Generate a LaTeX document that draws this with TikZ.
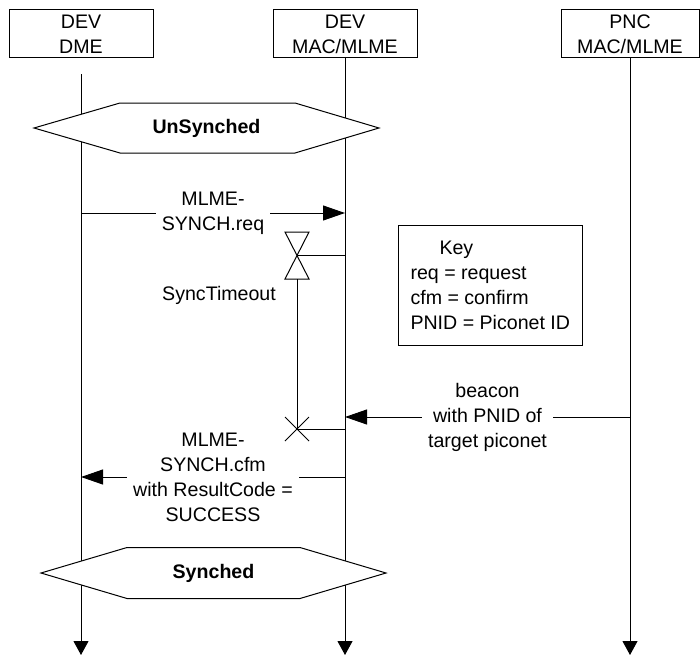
\documentclass[tikz,border=0pt]{standalone}
\usepackage{fontspec}
\setmainfont{Liberation Sans}
\usetikzlibrary{arrows.meta}

\begin{document}
\begin{tikzpicture}[x=1pt,y=-1pt,line width=1pt,
	every node/.style={font=\fontsize{19.6}{25}\selectfont}]
	\useasboundingbox (0,0) rectangle (700,658);
	\tikzstyle{head}=[draw, align=center, minimum width=144pt, minimum height=48pt, inner sep=0pt]
	\tikzstyle{state}=[font=\fontsize{19.6}{25}\selectfont\bfseries]
	\tikzstyle{msg}=[fill=white, align=center, inner sep=6pt]
	\tikzstyle{life}=[-{Triangle[length=14pt,width=15pt]}]
	\tikzstyle{sig}=[-{Triangle[length=22pt,width=15pt]}]

	\node[head] 					(dme) at (81,34)  {DEV\\DME};
	\node[head] 					(mac) at (345,34) {DEV\\MAC/MLME};
	\node[head, minimum width=138pt] 	(pnc) at (630,34) {PNC\\MAC/MLME};

	\coordinate (bottom) at (0,655);
	\draw[life, shorten <=16pt]	(dme.south) -- (dme |- bottom);
	\draw[life]	(mac.south) -- (mac |- bottom);
	\draw[life]	(pnc.south) -- (pnc |- bottom);

	\draw[fill=white] (34,128) -- (120,103) -- (295,103) -- (379,128) -- (295,153) -- (120,153) -- cycle;
	\node[state] (unsync) at (206.5,128) {UnSynched};
	\draw[fill=white] (41,573) -- (127,547.5) -- (300,547.5) -- (386,573) -- (300,598.5) -- (127,598.5) -- cycle;
	\node[state] (sync) at (213.5,573) {Synched};

	\node[draw, align=left, minimum height=120pt, inner xsep=12pt, anchor=north west] (key) at (398,225)
		{\hspace*{29pt}Key\\req = request\\cfm = confirm\\PNID = Piconet ID};

	\coordinate (req) at (0,213);
	\coordinate (bcn) at (0,417);
	\coordinate (cfm) at (0,477);
	\coordinate (tstart) at (297,255);
	\coordinate (tstop) at (297,429);

	\begin{scope}[sig]
		\draw	(dme |- req) -- node[msg] {MLME-\\SYNCH.req} (mac |- req);
		\draw	(pnc |- bcn) -- node[msg] {beacon\\with PNID of\\target piconet} (mac |- bcn);
		\draw	(mac |- cfm) -- node[msg] {MLME-\\SYNCH.cfm\\with ResultCode =\\SUCCESS} (dme |- cfm);
	\end{scope}

	\draw	(285,232) -- (309,232) -- (285,279) -- (309,279) -- cycle;
	\draw	(tstart) -- (mac |- tstart);
	\draw	(297,279) -- (tstop);
	\draw	(tstop) ++(-12,-12) -- ++(24,24) ++(0,-24) -- ++(-24,24);
	\draw	(tstop) -- (mac |- tstop);
	\node (tout) at (219,295) {SyncTimeout};
\end{tikzpicture}
\end{document}
